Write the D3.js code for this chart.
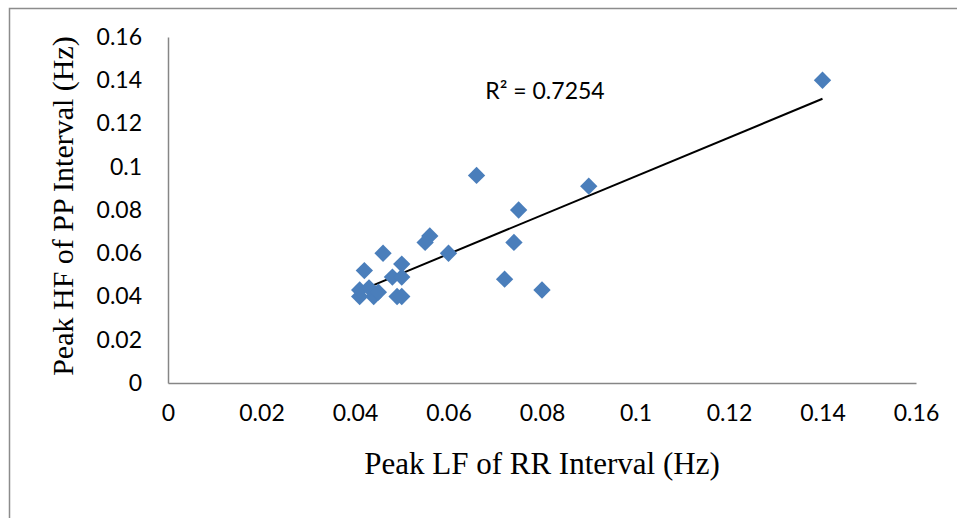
<!DOCTYPE html>
<html>
<head>
<meta charset="utf-8">
<script src="https://cdn.jsdelivr.net/npm/d3@7"></script>
<style>
  html, body { margin: 0; padding: 0; background: #fff; }
  svg { display: block; }
</style>
</head>
<body>
<svg id="chart" width="957" height="518"></svg>
<script>
// Peak LF of the RR interval vs peak HF of the PP interval (Hz), one point per recording
const peakLF_RR = [0.140, 0.090, 0.066, 0.075, 0.074, 0.072, 0.080, 0.060, 0.056, 0.055, 0.046,
                   0.042, 0.050, 0.048, 0.050, 0.049, 0.050, 0.041, 0.044, 0.041, 0.043, 0.045];
const peakHF_PP = [0.140, 0.091, 0.096, 0.080, 0.065, 0.048, 0.043, 0.060, 0.068, 0.065, 0.060,
                   0.052, 0.055, 0.049, 0.049, 0.040, 0.040, 0.040, 0.040, 0.043, 0.044, 0.042];
const xTicks = [0, 0.02, 0.04, 0.06, 0.08, 0.1, 0.12, 0.14, 0.16];
const yTicks = [0, 0.02, 0.04, 0.06, 0.08, 0.1, 0.12, 0.14, 0.16];
const rSquaredLabel = "R² = 0.7254";
const xTitle = "Peak LF of RR Interval (Hz)";
const yTitle = "Peak HF of PP Interval (Hz)";

const points = peakLF_RR.map((x, i) => ({ x, y: peakHF_PP[i] }));

const svg = d3.select("#chart");

// outer chart border
svg.append("rect")
  .attr("x", 9.5).attr("y", 8.5)
  .attr("width", 980).attr("height", 560)
  .attr("fill", "none").attr("stroke", "#8c8c8c").attr("stroke-width", 1.5);

const x = d3.scaleLinear().domain([0, 0.16]).range([168, 916]);
const y = d3.scaleLinear().domain([0, 0.16]).range([383, 37]);

const tickFont = "Lato, 'Open Sans', sans-serif";
const fmt = d => String(+d.toFixed(2));

// y axis
const yAxis = svg.append("g")
  .attr("transform", `translate(${x(0)},0)`)
  .call(d3.axisLeft(y).tickValues(yTicks).tickSize(0).tickPadding(26).tickFormat(fmt));
yAxis.select(".domain").attr("stroke", "#868686").attr("stroke-width", 1.5);
yAxis.selectAll("text").attr("font-family", tickFont).attr("font-size", 23).attr("fill", "#000");

// x axis
const xAxis = svg.append("g")
  .attr("transform", `translate(0,${y(0)})`)
  .call(d3.axisBottom(x).tickValues(xTicks).tickSize(0).tickPadding(22).tickFormat(fmt));
xAxis.select(".domain").attr("stroke", "#868686").attr("stroke-width", 1.5);
xAxis.selectAll("text").attr("font-family", tickFont).attr("font-size", 23).attr("fill", "#000");

// least-squares trendline across the range of the data
const mx = d3.mean(points, d => d.x), my = d3.mean(points, d => d.y);
const slope = d3.sum(points, d => (d.x - mx) * (d.y - my)) / d3.sum(points, d => (d.x - mx) ** 2);
const intercept = my - slope * mx;
const [x0, x1] = d3.extent(points, d => d.x);
svg.append("line")
  .attr("x1", x(x0)).attr("y1", y(intercept + slope * x0))
  .attr("x2", x(x1)).attr("y2", y(intercept + slope * x1))
  .attr("stroke", "#000").attr("stroke-width", 2);

// diamond markers
svg.append("g").selectAll("path").data(points).join("path")
  .attr("d", d3.symbol(d3.symbolSquare, 150))
  .attr("transform", d => `translate(${x(d.x)},${y(d.y)}) rotate(45)`)
  .attr("fill", "#4a7ebb");

// R² annotation
svg.append("text")
  .attr("x", 545).attr("y", 99)
  .attr("text-anchor", "middle")
  .attr("font-family", tickFont).attr("font-size", 23)
  .text(rSquaredLabel);

// axis titles
svg.append("text")
  .attr("x", 542).attr("y", 474)
  .attr("text-anchor", "middle")
  .attr("font-family", "'Liberation Serif', serif").attr("font-size", 31)
  .text(xTitle);

svg.append("text")
  .attr("transform", "translate(73,206) rotate(-90)")
  .attr("text-anchor", "middle")
  .attr("font-family", "'Liberation Serif', serif").attr("font-size", 30)
  .text(yTitle);
</script>
</body>
</html>
